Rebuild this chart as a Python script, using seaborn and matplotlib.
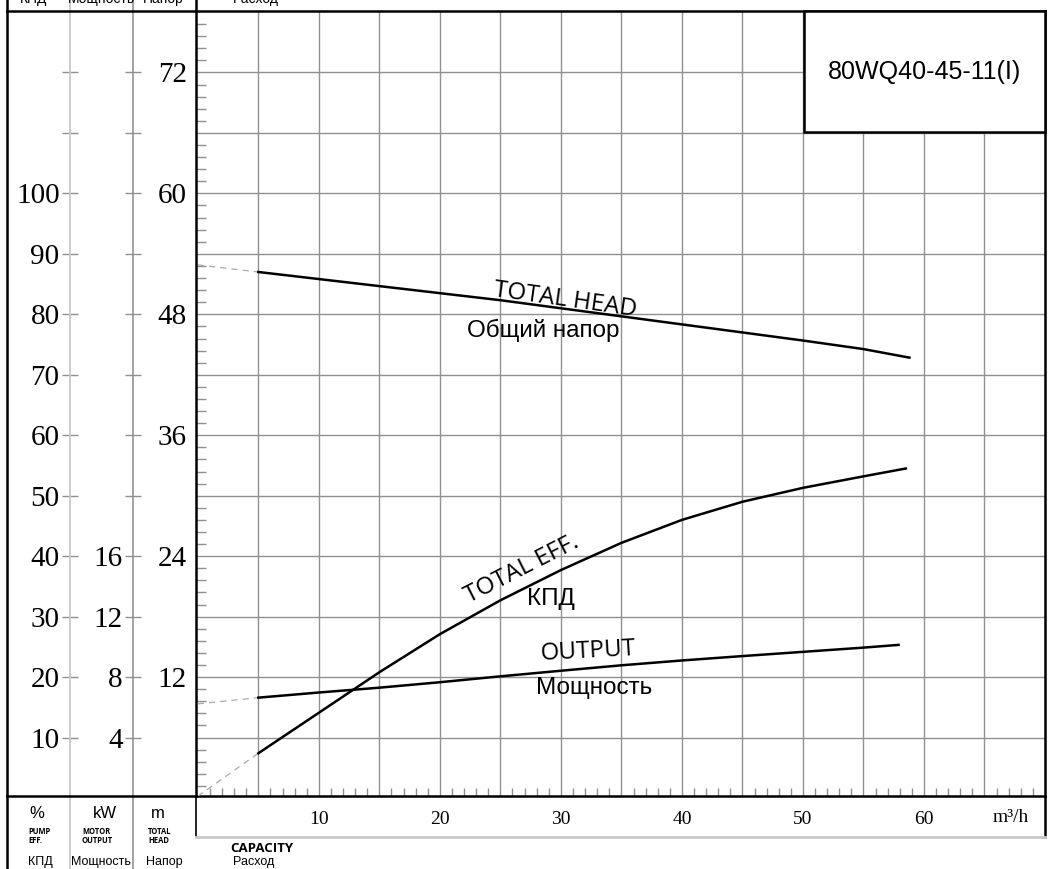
import matplotlib
matplotlib.use("Agg")
import matplotlib.pyplot as plt
import seaborn as sns
import numpy as np
from matplotlib.lines import Line2D
from matplotlib.patches import Rectangle

plt.rcParams['font.family'] = ['Liberation Sans', 'DejaVu Sans']

# curves (capacity m3/h)
q_head = [5, 10, 15, 20, 25, 30, 35, 40, 45, 50, 55, 58.8]
head = [52.2, 51.5, 50.8, 50.1, 49.4, 48.6, 47.8, 47.0, 46.2, 45.4, 44.55, 43.7]
q_eff = [5, 10, 15, 20, 25, 30, 35, 40, 45, 50, 55, 58.5]
eff = [7.4, 14.1, 20.8, 27.1, 32.7, 37.7, 42.2, 46.0, 49.0, 51.3, 53.2, 54.5]
q_pow = [5, 10, 15, 20, 25, 30, 35, 40, 45, 50, 55, 57.9]
power = [6.64, 6.98, 7.3, 7.66, 8.05, 8.42, 8.78, 9.1, 9.39, 9.67, 9.95, 10.13]
# dashed extrapolation to zero flow
q_ext = [0, 5]
head_ext = [52.9, 52.2]
eff_ext = [0.3, 7.4]
pow_ext = [6.23, 6.64]

x_ticks = [10, 20, 30, 40, 50, 60]
head_ticks = [12, 24, 36, 48, 60, 72]
eff_ticks = [10, 20, 30, 40, 50, 60, 70, 80, 90, 100]
pow_ticks = [4, 8, 12, 16]
model = "80WQ40-45-11(I)"

W, H = 1048, 869
def fx(px): return px / W
def fy(py): return 1 - py / H

head_lim = (0.2, 78.1)
eff_lim = (head_lim[0] * 10 / 6, head_lim[1] * 10 / 6)
pow_lim = (head_lim[0] * 2 / 3, head_lim[1] * 2 / 3)
xlim = (-0.15, 70.0)

fig = plt.figure(figsize=(W / 100, H / 100), dpi=100)
pos = [fx(196), fy(796), fx(1045) - fx(196), fy(11) - fy(796)]
ax = fig.add_axes(pos)
ax_e = ax.twinx()
ax_p = ax.twinx()

grey = '#909090'
lw = 1.8

sns.lineplot(x=q_ext, y=head_ext, ax=ax, color='#aaaaaa', lw=0.9, linestyle=(0, (5, 4)))
sns.lineplot(x=q_head, y=head, ax=ax, color='black', lw=lw)
sns.lineplot(x=q_ext, y=eff_ext, ax=ax_e, color='#aaaaaa', lw=0.9, linestyle=(0, (5, 4)))
sns.lineplot(x=q_eff, y=eff, ax=ax_e, color='black', lw=lw)
sns.lineplot(x=q_ext, y=pow_ext, ax=ax_p, color='#aaaaaa', lw=0.9, linestyle=(0, (5, 4)))
sns.lineplot(x=q_pow, y=power, ax=ax_p, color='black', lw=lw)

ax.set_xlim(xlim)
ax.set_ylim(head_lim)
ax_e.set_ylim(eff_lim)
ax_p.set_ylim(pow_lim)
for a in (ax_e, ax_p):
    a.axis('off')
ax.set(xlabel='', ylabel='')

# grid / ticks on main axis
xt = list(range(5, 70, 5))
ax.set_xticks(xt)
ax.set_xticklabels([str(v) if v in x_ticks else '' for v in xt],
                   fontfamily='Liberation Serif', fontsize=14)
yt = list(range(6, 78, 6))
ax.set_yticks(yt)
ax.set_yticklabels([str(v) if v in head_ticks else '' for v in yt],
                   fontfamily='Liberation Serif', fontsize=21)
ax.set_xticks(np.arange(1, 70, 1), minor=True)
ax.set_yticks(np.arange(1.2, 78, 1.2), minor=True)
ax.tick_params(which='major', length=0)
ax.tick_params(axis='x', which='major', pad=11)
ax.tick_params(axis='y', which='major', pad=6.5)
ax.tick_params(which='minor', direction='in', length=6, width=1, color=grey)
ax.tick_params(axis='y', which='minor', length=7)
ax.grid(True, which='major', color=grey, lw=1)
ax.set_axisbelow(True)
for s in ax.spines.values():
    s.set_linewidth(lw)
    s.set_color('black')

# model box
bx0 = (804 - 196) / 849
by0 = (796 - 132) / 785
ax.add_patch(Rectangle((bx0, by0), 1 - bx0, 1 - by0, transform=ax.transAxes,
                       facecolor='white', edgecolor='black', lw=lw, zorder=5, clip_on=False))
ax.text((bx0 + 1) / 2, (by0 + 1) / 2, model, transform=ax.transAxes, ha='center',
        va='center', fontsize=18, zorder=6)

# left scale columns
for xpx, lim, ticks, labels in [(70, eff_lim, range(10, 130, 10), eff_ticks),
                                (133, pow_lim, range(4, 52, 4), pow_ticks)]:
    c = fig.add_axes([fx(xpx), pos[1], fx(xpx + 63) - fx(xpx), pos[3]])
    c.set_facecolor('none')
    for s in c.spines.values():
        s.set_visible(False)
    c.set_ylim(lim)
    c.set_xticks([])
    tk = list(ticks)
    c.set_yticks(tk)
    c.set_yticklabels([str(v) if v in labels else '' for v in tk],
                      fontfamily='Liberation Serif', fontsize=21)
    c.tick_params(axis='y', direction='inout', length=11, width=1, color=grey, pad=2)

# frame lines
def fline(x0, y0, x1, y1, color='black', width=lw):
    fig.add_artist(Line2D([fx(x0), fx(x1)], [fy(y0), fy(y1)], transform=fig.transFigure,
                          color=color, lw=width))

fline(70, 0, 70, 869, '#c8c8c8', 1.3)
fline(133, 0, 133, 869, '#8a8a8a', 1.1)
fline(7, 0, 7, 869)
fline(196, 0, 196, 11)
fline(196, 796, 196, 836, 'black', 1.2)
fline(7, 11, 196, 11)
fline(7, 796, 196, 796)
fline(1045, 796, 1045, 837)
fline(196, 837, 1045, 837, '#c8c8c8', 2)

# curve labels
def lab(px, py, s, rot=0, family='Liberation Sans', size=18, **kw):
    fig.text(fx(px), fy(py), s, rotation=rot, rotation_mode='anchor', ha='center',
             va='center', fontfamily=family, fontsize=size, **kw)

lab(565, 300, 'TOTAL HEAD', -8, 'Open Sans', 17.5)
lab(543, 330, 'Общий напор', 0, 'Liberation Sans', 17.5)
lab(522, 569, 'TOTAL EFF.', 27, 'Open Sans', 17.5)
lab(551, 599, 'КПД', 0, 'Liberation Sans', 17.5)
lab(588, 652, 'OUTPUT', 3, 'Open Sans', 17.5)
lab(594, 688, 'Мощность', 0, 'Liberation Sans', 17.5)

# x unit
lab(1011, 818, 'm³/h', 0, 'Liberation Serif', 14)

# bottom legend row
lab(37, 813, '%', 0, 'Liberation Sans', 12)
lab(105, 813, 'kW', 0, 'Liberation Sans', 12)
lab(158, 813, 'm', 0, 'Liberation Sans', 12)
for xpx, s in [(28, 'PUMP\nEFF.'), (82, 'MOTOR\nOUTPUT'), (148, 'TOTAL\nHEAD')]:
    fig.text(fx(xpx), fy(836), s, ha='left', va='center', fontfamily='Open Sans',
             fontweight='bold', fontsize=5.5, linespacing=1.0)
for xpx, s in [(28, 'КПД'), (71, 'Мощность'), (146, 'Напор'), (233, 'Расход')]:
    fig.text(fx(xpx), fy(862), s, ha='left', va='center', fontsize=9)
fig.text(fx(230), fy(849), 'CAPACITY', ha='left', va='center', fontfamily='Open Sans',
         fontweight='bold', fontsize=9.5)
# cut-off repeat of the labels above the top border, as in the source sheet
for xpx, s in [(20, 'КПД'), (68, 'Мощность'), (143, 'Напор'), (233, 'Расход')]:
    fig.text(fx(xpx), fy(3), s, ha='left', va='baseline', fontsize=10)

fig.savefig('out.png', dpi=100, facecolor='white')
